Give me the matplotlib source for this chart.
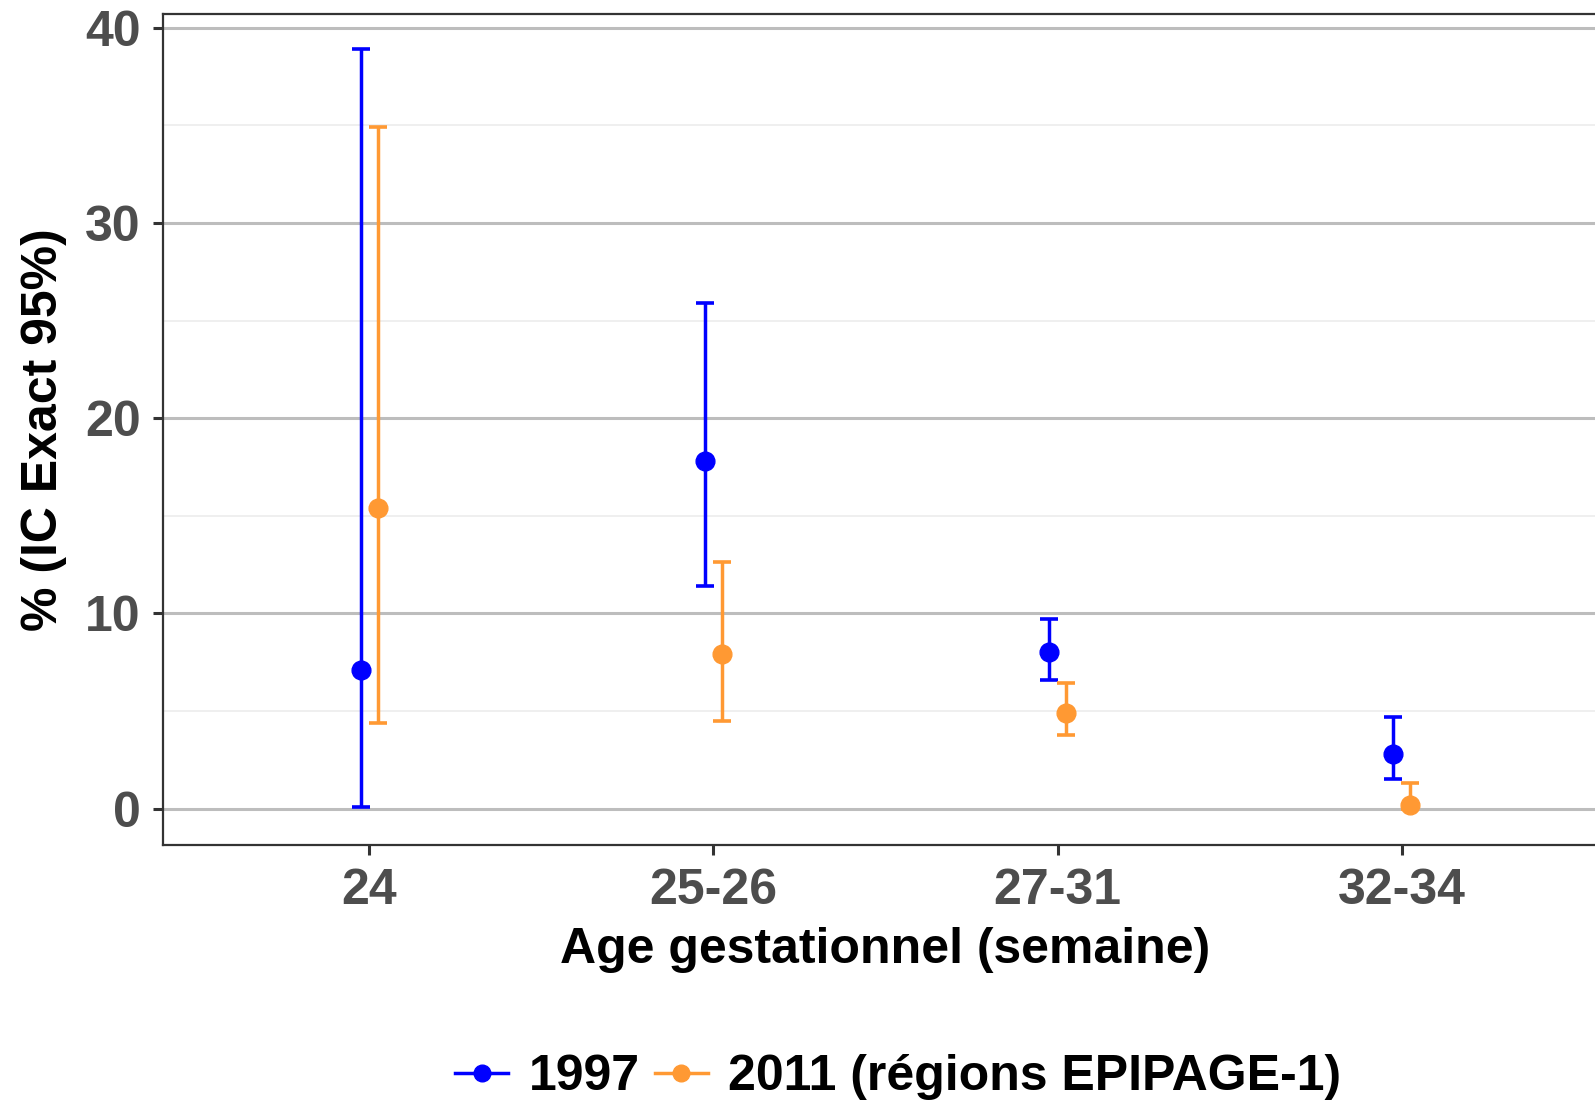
import matplotlib
matplotlib.use("Agg")
import matplotlib.pyplot as plt
from matplotlib.lines import Line2D
import numpy as np

categories = ["24", "25-26", "27-31", "32-34"]
series_names = ["1997", "2011 (régions EPIPAGE-1)"]
est_1997 = [7.1, 17.8, 8.0, 2.8]
low_1997 = [0.1, 11.4, 6.6, 1.5]
up_1997 = [38.9, 25.9, 9.7, 4.7]
est_2011 = [15.4, 7.9, 4.9, 0.2]
low_2011 = [4.4, 4.5, 3.75, 0.0]
up_2011 = [34.9, 12.65, 6.45, 1.3]
y_ticks = [0, 10, 20, 30, 40]

colors = ["#0000FF", "#FF9933"]

plt.rcParams['font.family'] = ['Liberation Sans', 'DejaVu Sans']
plt.rcParams['font.weight'] = 'bold'

fig = plt.figure(figsize=(15.95, 11.05), dpi=100)
ax = fig.add_axes([163/1595, 260.4/1105, (1608-163)/1595, (844.6-14.2)/1105])

x = np.arange(1, len(categories) + 1)
dodge = 0.025
for i, (est, lo, up) in enumerate([(est_1997, low_1997, up_1997), (est_2011, low_2011, up_2011)]):
    est = np.array(est); lo = np.array(lo); up = np.array(up)
    xi = x + (-dodge if i == 0 else dodge)
    ax.errorbar(xi, est, yerr=[est - lo, up - est], fmt='o', color=colors[i],
                ms=13.5, elinewidth=2.5, capsize=6.2, capthick=2.6, zorder=3 + i)

ax.set_xlim(0.4, 4.6)
ax.set_ylim(-1.84, 40.69)
ax.set_xticks(x)
ax.set_xticklabels(categories)
ax.set_yticks(y_ticks)
ax.set_yticks([5, 15, 25, 35], minor=True)
ax.tick_params(axis='y', which='minor', length=0)
ax.grid(axis='y', which='major', color='#bdbdbd', lw=2.2, zorder=0)
ax.grid(axis='y', which='minor', color='#ebebeb', lw=1.1, zorder=0)
ax.set_axisbelow(True)
for s in ax.spines.values():
    s.set_color('#333333')
    s.set_linewidth(1.6)
ax.tick_params(axis='both', which='major', length=7, width=2.2, color='#333333',
               labelsize=36, labelcolor='#4d4d4d')
ax.tick_params(axis='x', which='major', pad=10)
ax.tick_params(axis='y', which='major', pad=9)
for lab in ax.get_xticklabels() + ax.get_yticklabels():
    lab.set_fontweight('bold')

ax.set_xlabel("Age gestationnel (semaine)", fontsize=36, fontweight='bold', color='black', labelpad=9)
ax.set_ylabel("% (IC Exact 95%)", fontsize=36, fontweight='bold', color='black', labelpad=13)

handles = [Line2D([0], [0], color=c, lw=2.5, marker='o', ms=12) for c in colors]
fig.legend(handles, series_names, loc='center', bbox_to_anchor=(898/1595, 1 - 1077/1105),
           ncol=2, frameon=False, prop={'size': 36, 'weight': 'bold'},
           handlelength=1.06, handletextpad=0.4, columnspacing=0.3)

fig.savefig("out.png", dpi=100)
